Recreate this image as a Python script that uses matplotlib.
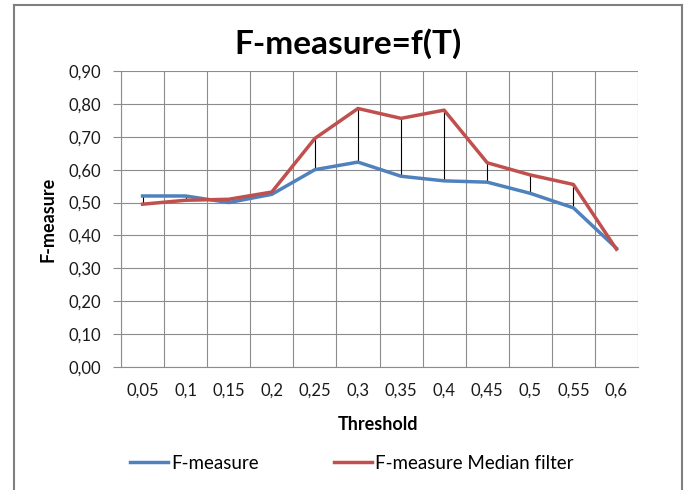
import matplotlib
matplotlib.use("Agg")
import matplotlib.pyplot as plt
from matplotlib.lines import Line2D
import numpy as np

plt.rcParams['font.family'] = ['Lato', 'DejaVu Sans']

thresholds = ["0,05", "0,1", "0,15", "0,2", "0,25", "0,3", "0,35", "0,4", "0,45", "0,5", "0,55", "0,6"]
f_measure = [0.52, 0.52, 0.50, 0.525, 0.60, 0.623, 0.58, 0.566, 0.562, 0.528, 0.484, 0.361]
f_measure_median = [0.495, 0.507, 0.51, 0.532, 0.695, 0.786, 0.756, 0.781, 0.621, 0.584, 0.555, 0.358]
y_ticks = [0.0, 0.1, 0.2, 0.3, 0.4, 0.5, 0.6, 0.7, 0.8, 0.9]

blue = "#4F81BD"
red = "#C0504D"
grid_col = "#8C8C8C"

fig = plt.figure(figsize=(6.88, 4.9), dpi=100)
ax = fig.add_axes([121/688, 1 - 367/490, (638 - 121)/688, (367 - 71)/490])

x = np.arange(len(thresholds))

# high-low lines between the two series
ax.vlines(x, f_measure, f_measure_median, color="black", lw=0.8, zorder=2)
ax.plot(x, f_measure, color=blue, lw=2.5, zorder=3, solid_joinstyle="round")
ax.plot(x, f_measure_median, color=red, lw=2.5, zorder=4, solid_joinstyle="round")

ax.set_xlim(-0.5, len(thresholds) - 0.5)
ax.set_ylim(0, 0.9)
ax.set_xticks(x)
ax.set_xticklabels(thresholds)
ax.set_xticks(np.arange(len(thresholds) + 1) - 0.5, minor=True)
ax.set_yticks(y_ticks)
ax.set_yticklabels([("%.2f" % v).replace(".", ",") for v in y_ticks])

ax.grid(True, which="minor", axis="x", color=grid_col, lw=0.8)
ax.grid(True, which="major", axis="y", color=grid_col, lw=0.8)
ax.set_axisbelow(True)
ax.tick_params(axis="x", which="both", length=0, pad=11, labelsize=12, colors="#1a1a1a")
ax.tick_params(axis="y", length=6, width=0.8, color=grid_col, pad=8, labelsize=12, colors="#1a1a1a")
for s in ["top", "right"]:
    ax.spines[s].set_visible(False)
for s in ["left", "bottom"]:
    ax.spines[s].set_color(grid_col)
    ax.spines[s].set_linewidth(0.8)

fig.text(348/688, 1 - 44/490, "F-measure=f(T)", ha="center", va="center", fontsize=24, fontweight="bold")
fig.text(48/688, 1 - 219/490, "F-measure", ha="center", va="center", rotation=90, fontsize=13, fontweight="bold")
fig.text(378/688, 1 - 425/490, "Threshold", ha="center", va="center", fontsize=13, fontweight="bold")

handles = [Line2D([], [], color=blue, lw=2.5), Line2D([], [], color=red, lw=2.5)]
fig.legend(handles, ["F-measure", "F-measure Median filter"], loc="center",
           bbox_to_anchor=(352/688, 1 - 463/490), ncol=2, frameon=False,
           fontsize=13.5, handlelength=2.0, handletextpad=0.2, columnspacing=4.0)

# chart border (Excel-style frame)
frame_kw = dict(color="#7F7F7F", lw=1.5, transform=fig.transFigure)
fig.add_artist(Line2D([14/688, 14/688], [0, 1 - 5/490], **frame_kw))
fig.add_artist(Line2D([14/688, 682/688], [1 - 5/490, 1 - 5/490], **frame_kw))
fig.add_artist(Line2D([682/688, 682/688], [0, 1 - 5/490], **frame_kw))

fig.savefig("out.png", dpi=100)
